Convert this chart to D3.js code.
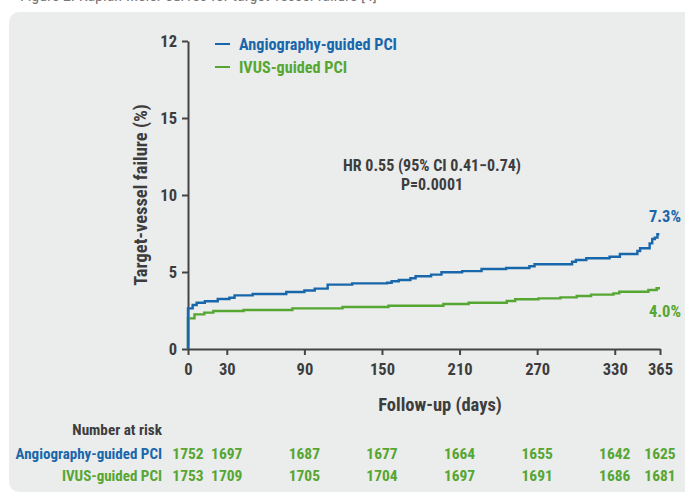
<!DOCTYPE html>
<html>
<head>
<meta charset="utf-8">
<script src="https://cdn.jsdelivr.net/npm/d3@7"></script>
<style>
  html, body { margin: 0; padding: 0; background: #fff; }
  svg { display: block; }
  text { font-family: "Roboto Condensed", "Liberation Sans Narrow", "DejaVu Sans Condensed", Roboto, sans-serif; font-weight: bold; }
</style>
</head>
<body>
<div id="chart"></div>
<script>
// Kaplan-Meier step points (day, %)
const angioDays = [0, 0, 3.6, 6.7, 13, 23, 32, 36, 50, 76, 90, 98, 108, 127, 154, 157.5, 163, 172, 176, 188, 196, 212, 227, 246, 264, 268, 297, 300, 308, 326, 334, 347.5, 349.6, 357, 359, 361, 363, 364.5];
const angioVals = [0, 2.64, 2.86, 3.0, 3.1, 3.25, 3.33, 3.48, 3.57, 3.7, 3.8, 3.92, 4.18, 4.26, 4.3, 4.4, 4.48, 4.59, 4.72, 4.83, 4.98, 5.06, 5.19, 5.26, 5.37, 5.5, 5.67, 5.78, 5.89, 5.99, 6.17, 6.36, 6.54, 6.86, 7.14, 7.23, 7.45, 7.45];
const ivusDays = [0, 0, 5, 12.6, 19.6, 43, 80.7, 119.5, 155, 197.5, 217, 246.5, 253, 271, 288, 300.6, 311.7, 329, 333.5, 356, 362.4, 365];
const ivusVals = [0, 1.99, 2.25, 2.36, 2.47, 2.53, 2.64, 2.73, 2.81, 2.92, 3.0, 3.12, 3.23, 3.29, 3.35, 3.44, 3.53, 3.61, 3.72, 3.83, 3.94, 3.94];

const seriesNames = ["Angiography-guided PCI", "IVUS-guided PCI"];
const endLabels = ["7.3%", "4.0%"];

const xTicks = [0, 30, 90, 150, 210, 270, 330, 365];
const yTicks = [0, 5, 10, 15, 20];
const yTickLabels = ["0", "5", "10", "15", "12"];

const riskDays = [0, 30, 90, 150, 210, 270, 330, 365];
const riskAngio = [1752, 1697, 1687, 1677, 1664, 1655, 1642, 1625];
const riskIvus = [1753, 1709, 1705, 1704, 1697, 1691, 1686, 1681];

const W = 685, H = 495;
const BLUE = "#1867ab", GREEN = "#56a632", DARK = "#3d3d3d";

const svg = d3.select("#chart").append("svg")
  .attr("width", W).attr("height", H);

// caption, cut by the top edge as in the source figure
svg.append("text")
  .attr("x", 20).attr("y", 1)
  .attr("fill", "#777").attr("font-size", 16).style("font-weight", "normal")
  .text("Figure 2. Kaplan-Meier curves for target-vessel failure [4]");

// panel
svg.append("rect")
  .attr("x", 9).attr("y", 12).attr("width", 700).attr("height", 480)
  .attr("rx", 10).attr("fill", "#ebecec");

const x = d3.scaleLinear().domain([0, 365]).range([188, 660]);
const y = d3.scaleLinear().domain([0, 20]).range([349, 41]);

// axes
const xAxis = svg.append("g").attr("transform", `translate(0,${y(0)})`)
  .call(d3.axisBottom(x).tickValues(xTicks).tickSize(6).tickPadding(8).tickSizeOuter(0));
const yAxis = svg.append("g").attr("transform", `translate(${x(0)},0)`)
  .call(d3.axisLeft(y).tickValues(yTicks).tickFormat((d, i) => yTickLabels[i])
    .tickSize(6).tickPadding(5).tickSizeOuter(0));
[xAxis, yAxis].forEach(g => {
  g.attr("font-family", null).attr("font-size", null);
  g.selectAll("path, line").attr("stroke", "#444").attr("stroke-width", 2);
  g.selectAll("text").attr("fill", DARK).attr("font-size", 16.5);
});

// axis titles
svg.append("text")
  .attr("transform", `translate(147,${y(10)}) rotate(-90)`)
  .attr("text-anchor", "middle").attr("fill", DARK).attr("font-size", 18.5)
  .text("Target-vessel failure (%)");
svg.append("text")
  .attr("x", (x(0) + x(365)) / 2 + 16).attr("y", 411)
  .attr("text-anchor", "middle").attr("fill", DARK).attr("font-size", 18.5)
  .text("Follow-up (days)");

// curves
const line = d3.line().x(d => x(d[0])).y(d => y(d[1])).curve(d3.curveStepAfter);
const series = [
  { days: angioDays, vals: angioVals, color: BLUE },
  { days: ivusDays, vals: ivusVals, color: GREEN }
];
series.slice().reverse().forEach(s => {
  svg.append("path")
    .datum(s.days.map((d, i) => [d, s.vals[i]]))
    .attr("fill", "none").attr("stroke", s.color)
    .attr("stroke-width", 2.4).attr("d", line);
});

// end labels
svg.append("text").attr("x", 681).attr("y", 222).attr("text-anchor", "end")
  .attr("fill", BLUE).attr("font-size", 16.5).text(endLabels[0]);
svg.append("text").attr("x", 681).attr("y", 317).attr("text-anchor", "end")
  .attr("fill", GREEN).attr("font-size", 16.5).text(endLabels[1]);

// legend
const legend = svg.append("g");
series.forEach((s, i) => {
  const ly = 44 + i * 23;
  legend.append("line")
    .attr("x1", 215).attr("x2", 230).attr("y1", ly).attr("y2", ly)
    .attr("stroke", s.color).attr("stroke-width", 2);
  legend.append("text").attr("x", 239).attr("y", ly + 6)
    .attr("fill", s.color).attr("font-size", 16.2).text(seriesNames[i]);
});

// HR annotation
svg.append("text").attr("x", 432).attr("y", 171).attr("text-anchor", "middle")
  .attr("fill", DARK).attr("font-size", 16).text("HR 0.55 (95% CI 0.41\u22120.74)");
svg.append("text").attr("x", 432).attr("y", 190).attr("text-anchor", "middle")
  .attr("fill", DARK).attr("font-size", 16).text("P=0.0001");

// number at risk
svg.append("text").attr("x", 162).attr("y", 435).attr("text-anchor", "end")
  .attr("fill", DARK).attr("font-size", 15.2).text("Number at risk");
const rows = [riskAngio, riskIvus];
rows.forEach((vals, r) => {
  const ry = 459 + r * 22;
  svg.append("text").attr("x", 162).attr("y", ry).attr("text-anchor", "end")
    .attr("fill", series[r].color).attr("font-size", 15).text(seriesNames[r]);
  svg.append("g").selectAll("text").data(vals).join("text")
    .attr("x", (d, i) => x(riskDays[i])).attr("y", ry)
    .attr("text-anchor", "middle").attr("fill", GREEN).attr("font-size", 15.5)
    .text(d => d);
});
</script>
</body>
</html>
